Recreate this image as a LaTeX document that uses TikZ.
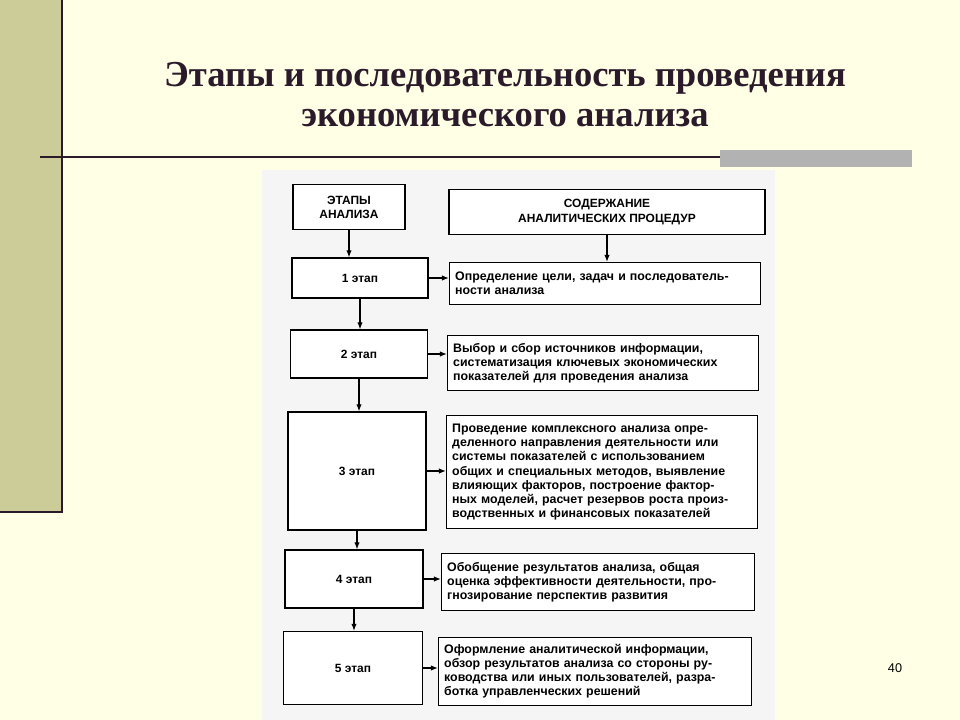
\documentclass[tikz,border=0pt]{standalone}
\usepackage{fontspec}
\setmainfont{Liberation Serif}
\setsansfont{Liberation Sans}
\usetikzlibrary{positioning,arrows.meta}
\definecolor{slidebg}{HTML}{FFFFE6}
\definecolor{olive}{HTML}{CCCC99}
\definecolor{titlecol}{HTML}{2A1A2A}
\tikzset{
  stagebox/.style={draw,thick,fill=white,font=\sffamily\bfseries\fontsize{8.5}{10}\selectfont,align=center},
  textbox/.style={draw,thick,fill=white,font=\sffamily\bfseries\fontsize{8.8}{10}\selectfont,align=left,anchor=north west,inner sep=4pt},
  flow/.style={-{Latex[length=5pt]},thick}
}
\begin{document}
\begin{tikzpicture}[x=0.025cm,y=-0.025cm]
\fill[slidebg] (0,0) rectangle (960,720);
\useasboundingbox (0,0) rectangle (960,720);
\fill[olive] (0,0) rectangle (62,512);
\draw[titlecol,thick] (62,0) -- (62,512) -- (0,512);
\draw[titlecol,thick] (40,157) -- (912,157);
\fill[gray!60] (720,150) rectangle (912,167);

\node[font=\bfseries\fontsize{26}{28.5}\selectfont,text=titlecol,align=center] (title) at (505,95)
  {Этапы и последовательность проведения\\экономического анализа};

% scanned page
\fill[gray!8] (262,170) rectangle (775,720);

% stages
\node[stagebox,minimum width=112*0.025cm,minimum height=45*0.025cm] (h1) at (349,207) {ЭТАПЫ\\АНАЛИЗА};
\node[stagebox,minimum width=136*0.025cm,minimum height=40*0.025cm] (e1) at (360,278) {1 этап};
\node[stagebox,minimum width=137*0.025cm,minimum height=48*0.025cm] (e2) at (359,354) {2 этап};
\node[stagebox,minimum width=138*0.025cm,minimum height=118*0.025cm] (e3) at (357,471) {3 этап};
\node[stagebox,minimum width=138*0.025cm,minimum height=58*0.025cm] (e4) at (354,579) {4 этап};
\node[stagebox,minimum width=139*0.025cm,minimum height=73*0.025cm] (e5) at (353,668) {5 этап};

% contents
\node[stagebox,minimum width=316*0.025cm,minimum height=45*0.025cm] (h2) at (607,212) {СОДЕРЖАНИЕ\\АНАЛИТИЧЕСКИХ ПРОЦЕДУР};
\node[textbox,text width=300*0.025cm,minimum height=42*0.025cm] (c1) at (449,262)
  {Определение цели, задач и последователь-\\ности анализа};
\node[textbox,text width=300*0.025cm,minimum height=55*0.025cm] (c2) at (447,335)
  {Выбор и сбор источников информации,\\систематизация ключевых экономических\\показателей для проведения анализа};
\node[textbox,text width=300*0.025cm,minimum height=113*0.025cm] (c3) at (446,415)
  {Проведение комплексного анализа опре-\\деленного направления деятельности или\\системы показателей с использованием\\общих и специальных методов, выявление\\влияющих факторов, построение фактор-\\ных моделей, расчет резервов роста произ-\\водственных и финансовых показателей};
\node[textbox,text width=302*0.025cm,minimum height=57*0.025cm] (c4) at (441,553)
  {Обобщение результатов анализа, общая\\оценка эффективности деятельности, про-\\гнозирование перспектив развития};
\node[textbox,text width=302*0.025cm,minimum height=68*0.025cm] (c5) at (438,637)
  {Оформление аналитической информации,\\обзор результатов анализа со стороны ру-\\ководства или иных пользователей, разра-\\ботка управленческих решений};

% arrows
\draw[flow] (h1.south) -- (h1.south |- e1.north);
\draw[flow] (e1.south) -- (e1.south |- e2.north);
\draw[flow] (e2.south) -- (e2.south |- e3.north);
\draw[flow] (e3.south) -- (e3.south |- e4.north);
\draw[flow] (e4.south) -- (e4.south |- e5.north);
\draw[flow] (h2.south) -- (h2.south |- c1.north);
\foreach \i in {1,...,5}
  \draw[flow] (e\i.east) -- (e\i.east -| c\i.west);

\node[font=\sffamily\fontsize{9}{11}\selectfont] (page) at (895,668) {40};
\end{tikzpicture}
\end{document}
